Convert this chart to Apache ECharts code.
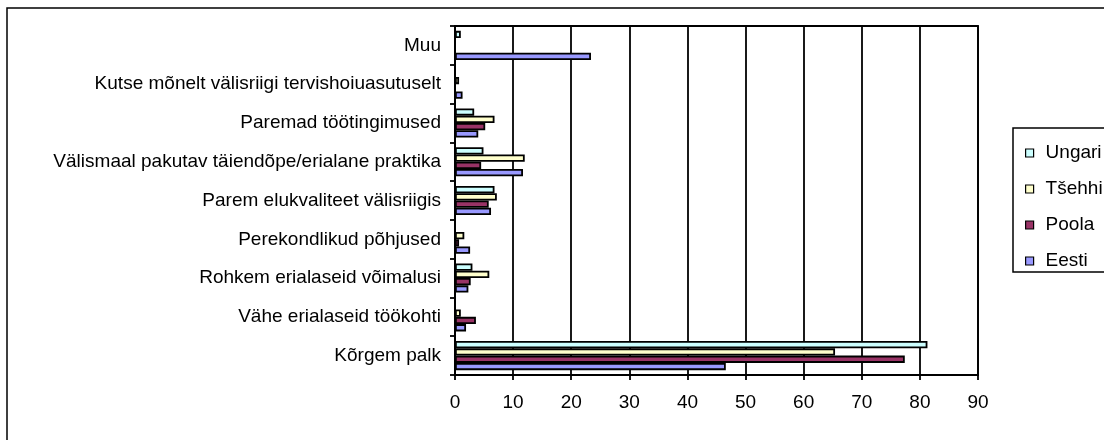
<!DOCTYPE html>
<html>
<head>
<meta charset="utf-8">
<script src="https://cdn.jsdelivr.net/npm/echarts@6/dist/echarts.min.js"></script>
<style>
  html, body { margin: 0; padding: 0; background: #fff; }
  #chart { width: 1104px; height: 440px; }
</style>
</head>
<body>
<div id="chart"></div>
<script>
  // categories listed bottom -> top as drawn on the y axis
  const categories = [
    'Kõrgem palk',
    'Vähe erialaseid töökohti',
    'Rohkem erialaseid võimalusi',
    'Perekondlikud põhjused',
    'Parem elukvaliteet välisriigis',
    'Välismaal pakutav täiendõpe/erialane praktika',
    'Paremad töötingimused',
    'Kutse mõnelt välisriigi tervishoiuasutuselt',
    'Muu'
  ]
  const eesti = [46.6, 1.9, 2.3, 2.6, 6.2, 11.7, 4.0, 1.3, 23.4]
  const poola = [77.4, 3.6, 2.7, 0.7, 5.8, 4.5, 5.2, 0, 0]
  const tsehhi = [65.4, 1.0, 5.9, 1.6, 7.2, 12.0, 6.8, 0.7, 0]
  const ungari = [81.3, 0, 3.0, 0, 6.8, 4.9, 3.3, 0, 1.0]
  const legendOrder = ['Ungari', 'Tšehhi', 'Poola', 'Eesti']

  const font = "'Liberation Sans', Arial, sans-serif"
  const mychart = echarts.init(document.getElementById('chart'))

  function bar(name, data, color) {
    return {
      name: name,
      type: 'bar',
      data: data,
      barGap: '0%',
      barCategoryGap: '25%',
      itemStyle: { color: color, borderColor: '#000', borderWidth: 1.8 },
      emphasis: { disabled: true },
      animation: false
    }
  }

  const option = {
    backgroundColor: '#fff',
    textStyle: { fontFamily: font },
    grid: {
      left: 455,
      right: 126,
      top: 26,
      bottom: 65,
      show: true,
      borderColor: '#000',
      borderWidth: 1.8
    },
    graphic: [
      {
        type: 'rect',
        shape: { x: 7, y: 8, width: 1110, height: 450 },
        style: { fill: 'none', stroke: '#000', lineWidth: 1.5 },
        silent: true
      },
      {
        type: 'rect',
        shape: { x: 1013, y: 128, width: 110, height: 144 },
        style: { fill: 'none', stroke: '#000', lineWidth: 1.5 },
        silent: true
      }
    ],
    legend: {
      data: legendOrder,
      orient: 'vertical',
      left: 1020,
      top: 138,
      itemWidth: 8,
      itemHeight: 8,
      itemGap: 16,
      icon: 'rect',
      itemStyle: { borderColor: '#000', borderWidth: 1.2 },
      textStyle: { fontSize: 19, color: '#000', fontFamily: font, lineHeight: 20, padding: [0, 0, 0, 7] },
      selectedMode: false
    },
    xAxis: {
      type: 'value',
      min: 0,
      max: 90,
      interval: 10,
      axisLine: { show: true, lineStyle: { color: '#000', width: 1.8 } },
      axisTick: { show: true, length: 5, lineStyle: { color: '#000', width: 1.8 } },
      axisLabel: { fontSize: 19, color: '#000', margin: 18, fontFamily: font },
      splitLine: { show: true, lineStyle: { color: '#000', width: 1.8 } }
    },
    yAxis: {
      type: 'category',
      data: categories,
      axisLine: { show: true, lineStyle: { color: '#000', width: 1.8 } },
      axisTick: { show: true, length: 5, lineStyle: { color: '#000', width: 1.8 } },
      axisLabel: { fontSize: 19, color: '#000', margin: 14, fontFamily: font },
      splitLine: { show: false }
    },
    // first series is drawn at the top of each category band
    series: [
      bar('Ungari', ungari, '#CCFFFF'),
      bar('Tšehhi', tsehhi, '#FFFFCC'),
      bar('Poola', poola, '#993366'),
      bar('Eesti', eesti, '#9999FF')
    ],
    animation: false
  }
  mychart.setOption(option)
</script>
</body>
</html>
